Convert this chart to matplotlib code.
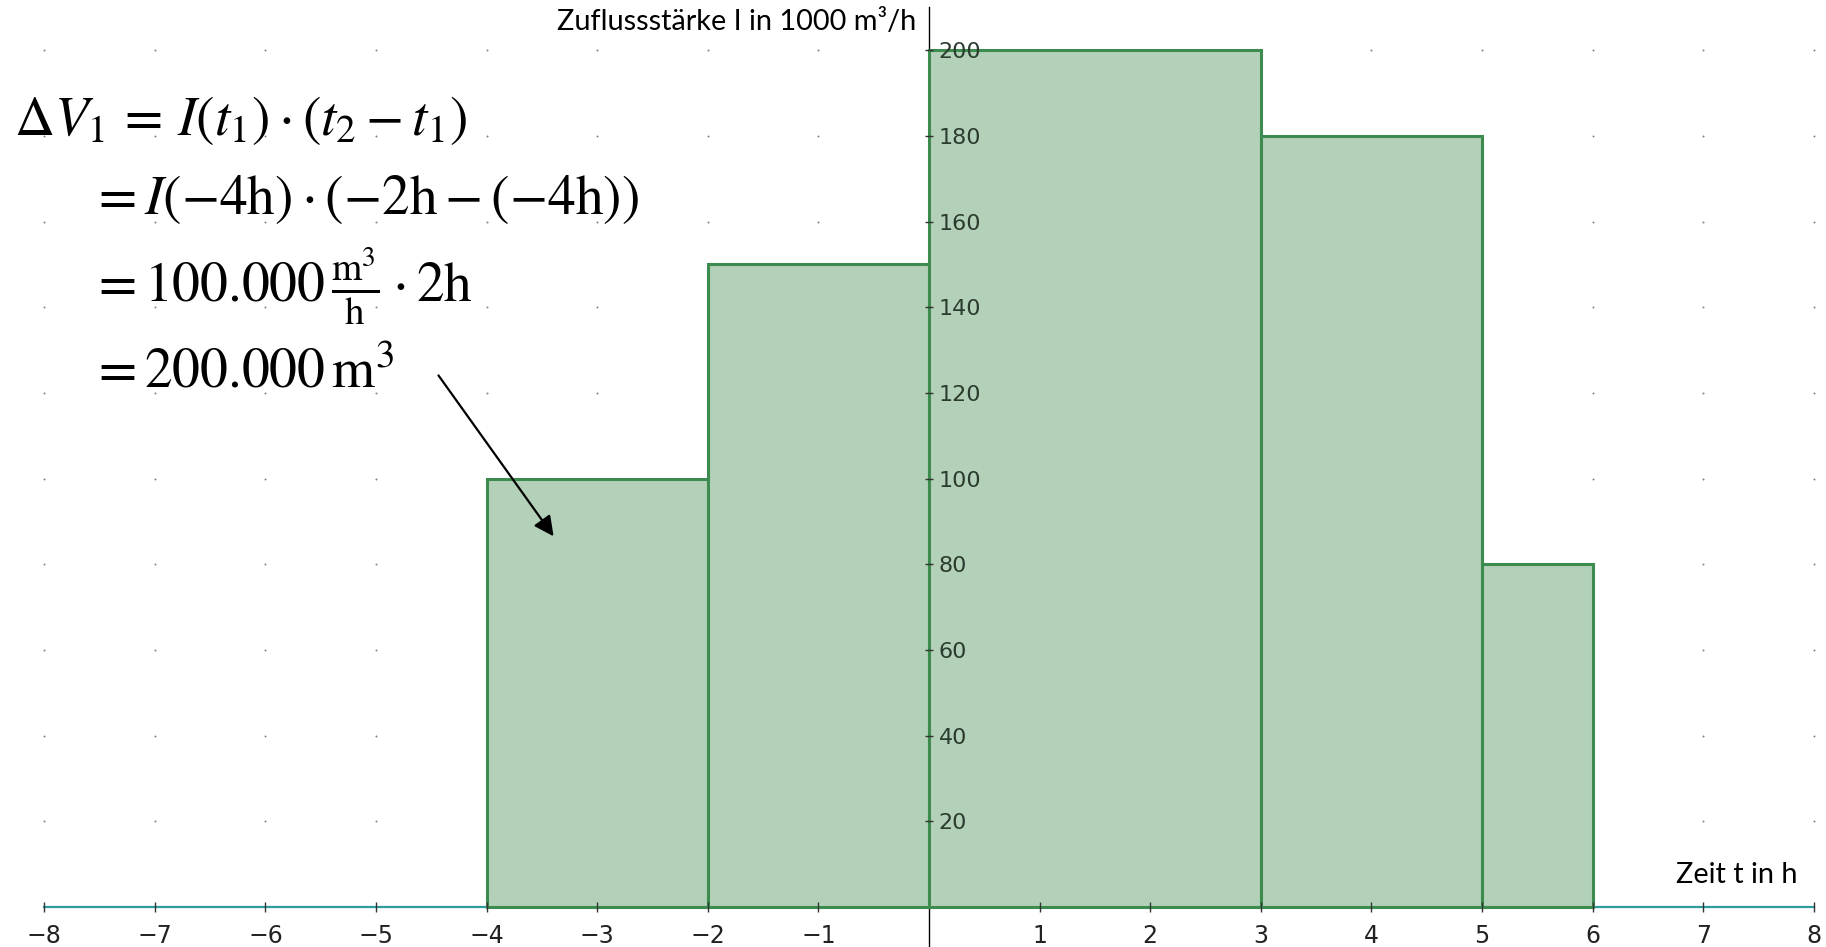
import matplotlib.pyplot as plt
import numpy as np

# Daten: Zeitintervalle (h) und Zuflussstärke (1000 m³/h)
t_start = np.array([-4, -2, 0, 3, 5])
t_end = np.array([-2, 0, 3, 5, 6])
zufluss = np.array([100, 150, 200, 180, 80])

x_ticks = [-8, -7, -6, -5, -4, -3, -2, -1, 1, 2, 3, 4, 5, 6, 7, 8]
y_ticks = [20, 40, 60, 80, 100, 120, 140, 160, 180, 200]

fill_col = '#b3d1b8'
edge_col = '#3d8b4f'
axis_col = '#2e9c9c'

plt.rcParams['mathtext.fontset'] = 'stix'

fig = plt.figure(figsize=(18.26, 9.47), dpi=100)
ax = fig.add_axes([0, 0, 1, 1])
ax.set_xlim(-8.4, 8.11)
ax.set_ylim(-9.33, 211.7)

# Punktraster
gx, gy = np.meshgrid(np.arange(-8, 9), y_ticks)
ax.scatter(gx.ravel(), gy.ravel(), s=2, color='#808080', zorder=1, linewidths=0)

# Balken
ax.bar(t_start, zufluss, width=t_end - t_start, align='edge',
       color=fill_col, edgecolor=edge_col, linewidth=2.2, zorder=2)

# Achsen
ax.set_axisbelow(False)
for s in ['top', 'right']:
    ax.spines[s].set_visible(False)
ax.spines['left'].set_position(('data', 0))
ax.spines['bottom'].set_position(('data', 0))
ax.spines['bottom'].set_bounds(-8, 8)
ax.spines['bottom'].set_color(axis_col)
ax.spines['bottom'].set_linewidth(1.6)
ax.spines['bottom'].set_zorder(1.5)
ax.spines['left'].set_bounds(-10, 210)
ax.spines['left'].set_color('black')
ax.spines['left'].set_linewidth(1.0)
ax.spines['left'].set_zorder(1.5)

ax.set_xticks(x_ticks)
ax.set_xticklabels([str(v).replace('-', '\u2212') for v in x_ticks])
ax.set_yticks(y_ticks)
ax.tick_params(axis='x', direction='inout', length=7, width=1, color='#333333',
               labelsize=17, labelcolor='#222222', pad=9)
ax.tick_params(axis='y', direction='inout', length=6, width=1, color='#333333',
               labelsize=16, labelcolor='#2b3b2e', pad=-10)
for lab in ax.get_yticklabels():
    lab.set_horizontalalignment('left')

# Achsenbeschriftungen
ax.text(-0.12, 206.5, 'Zuflussstärke I in 1000 m³/h', ha='right', va='center',
        fontsize=20.8, family='Lato', color='black')
ax.text(7.85, 7.5, 'Zeit t in h', ha='right', va='center',
        fontsize=20.8, family='Lato', color='black')

# Rechnung
fs = 40
fig.text(14 / 1826, 1 - 135 / 947, r'$\Delta V_1 \,=\, I(t_1)\cdot(t_2 - t_1)$',
         fontsize=fs, va='baseline', ha='left')
fig.text(90 / 1826, 1 - 214 / 947,
         r'$= I(-4\mathrm{h})\cdot(-2\mathrm{h} - (-4\mathrm{h}))$',
         fontsize=fs, va='baseline', ha='left')
fig.text(90 / 1826, 1 - 302 / 947,
         r'$= 100.000\,\frac{\mathrm{m}^3}{\mathrm{h}}\cdot 2\mathrm{h}$',
         fontsize=fs, va='baseline', ha='left')
fig.text(90 / 1826, 1 - 387 / 947, r'$= 200.000\,\mathrm{m}^3$',
         fontsize=fs, va='baseline', ha='left')

# Pfeil
ax.annotate('', xy=(-3.38, 86), xytext=(-4.45, 124.6),
            arrowprops=dict(arrowstyle='-|>', color='black', lw=1.6,
                            mutation_scale=30))

fig.savefig('out.png', dpi=100)
